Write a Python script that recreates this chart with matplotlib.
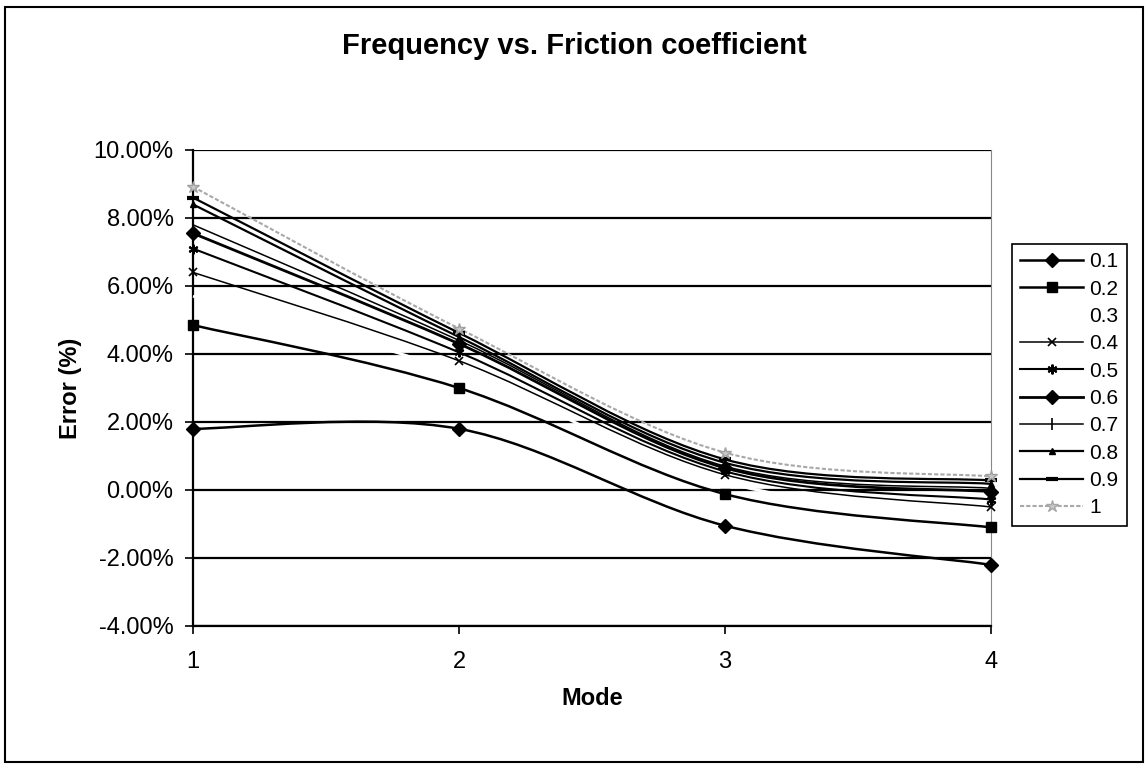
import matplotlib
matplotlib.use("Agg")
import matplotlib.pyplot as plt
from matplotlib.path import Path
from matplotlib.patches import PathPatch, Rectangle
from matplotlib.lines import Line2D
from matplotlib.ticker import FuncFormatter, FixedLocator
import numpy as np

plt.rcParams['font.family'] = ['Liberation Sans', 'DejaVu Sans']

modes = [1, 2, 3, 4]
labels = ["0.1", "0.2", "0.3", "0.4", "0.5", "0.6", "0.7", "0.8", "0.9", "1"]
err_01 = [1.80, 1.80, -1.05, -2.20]
err_02 = [4.85, 3.00, -0.12, -1.10]
err_03 = [5.70, 3.45, 0.22, -0.75]
err_04 = [6.40, 3.80, 0.45, -0.50]
err_05 = [7.10, 4.05, 0.55, -0.28]
err_06 = [7.55, 4.30, 0.65, -0.05]
err_07 = [7.80, 4.40, 0.70, 0.05]
err_08 = [8.40, 4.50, 0.80, 0.18]
err_09 = [8.60, 4.62, 0.90, 0.28]
err_10 = [8.92, 4.75, 1.10, 0.40]
series = [err_01, err_02, err_03, err_04, err_05, err_06, err_07, err_08, err_09, err_10]

yticks = [-4, -2, 0, 2, 4, 6, 8, 10]

styles = [
    dict(color='black', lw=1.8, marker='D', ms=7, mew=1, mfc='black', ls='-'),
    dict(color='black', lw=1.8, marker='s', ms=7, mew=1, mfc='black', ls='-'),
    dict(color='white', lw=2.0, marker=None, ms=0, mew=0, mfc='white', ls='-'),
    dict(color='black', lw=1.1, marker='x', ms=6, mew=1.2, mfc='black', ls='-'),
    dict(color='black', lw=1.5, marker=(6, 2, 0), ms=7, mew=1.5, mfc='black', ls='-'),
    dict(color='black', lw=2.0, marker='D', ms=7, mew=1, mfc='black', ls='-'),
    dict(color='black', lw=1.1, marker='|', ms=9, mew=1.2, mfc='black', ls='-'),
    dict(color='black', lw=1.6, marker='^', ms=4, mew=1, mfc='black', ls='-'),
    dict(color='black', lw=1.6, marker='_', ms=9, mew=3, mfc='black', ls='-'),
    dict(color='#a8a8a8', lw=1.5, marker='*', ms=9, mew=1, mfc='#c8c8c8', ls=(0, (2, 1))),
]


def smooth_path(xs, ys):
    pts = np.column_stack([xs, ys]).astype(float)
    n = len(pts)
    verts = [pts[0]]
    codes = [Path.MOVETO]
    for i in range(n - 1):
        p0 = pts[i - 1] if i > 0 else pts[i]
        p1 = pts[i]
        p2 = pts[i + 1]
        p3 = pts[i + 2] if i + 2 < n else pts[i + 1]
        c1 = p1 + (p2 - p0) / 6.0
        c2 = p2 - (p3 - p1) / 6.0
        verts += [c1, c2, p2]
        codes += [Path.CURVE4] * 3
    return Path(verts, codes)


fig = plt.figure(figsize=(11.48, 7.67), dpi=100)
fig.patch.set_facecolor('white')
fig.patches.append(Rectangle((5 / 1148, 5 / 767), 1 - 10 / 1148, 1 - 12 / 767,
                             transform=fig.transFigure, fill=False,
                             edgecolor='black', lw=1.5))

ax = fig.add_axes([193 / 1148, 1 - 626 / 767, (991 - 193) / 1148, (626 - 150) / 767])
ax.set_xlim(1, 4)
ax.set_ylim(-4, 10)
ax.yaxis.set_major_locator(FixedLocator(yticks))
ax.xaxis.set_major_locator(FixedLocator(modes))
ax.yaxis.set_major_formatter(FuncFormatter(lambda v, p: f"{v:.2f}%"))
ax.grid(axis='y', color='black', lw=1.6, zorder=0)
ax.set_axisbelow(True)
ax.spines['top'].set_visible(False)
ax.spines['right'].set_color('#888888')
ax.spines['right'].set_linewidth(0.8)
ax.spines['right'].set_linestyle((0, (1, 1)))
ax.spines['left'].set_linewidth(1.6)
ax.spines['bottom'].set_linewidth(1.6)
ax.tick_params(axis='both', direction='out', length=6, width=1.2, labelsize=17, pad=8)
ax.tick_params(axis='x', pad=12)

handles = []
for vals, st, lab in zip(series, styles, labels):
    patch = PathPatch(smooth_path(modes, vals), fill=False, edgecolor=st['color'],
                      lw=st['lw'], linestyle=st['ls'], zorder=3, clip_on=False)
    ax.add_patch(patch)
    if st['marker'] is not None:
        ax.plot(modes, vals, linestyle='none', marker=st['marker'], ms=st['ms'],
                mew=st['mew'], mfc=st['mfc'], mec=st['color'] if st['color'] != '#a8a8a8' else '#a0a0a0',
                zorder=4, clip_on=False)
    handles.append(Line2D([0], [0], color=st['color'], lw=st['lw'], linestyle=st['ls'],
                          marker=st['marker'] if st['marker'] else None, ms=st['ms'],
                          mew=st['mew'], mfc=st['mfc'], mec=st['color']))

ax.set_xlabel("Mode", fontsize=17, fontweight='bold', labelpad=10)
ax.set_ylabel("Error (%)", fontsize=17, fontweight='bold', labelpad=8)

fig.text(0.5, 1 - 46 / 767, "Frequency vs. Friction coefficient", ha='center', va='center',
         fontsize=21, fontweight='bold')

leg = fig.legend(handles, labels, loc='upper left',
                 bbox_to_anchor=(1012 / 1148, 1 - 244 / 767),
                 frameon=True, fancybox=False, edgecolor='black', framealpha=1,
                 fontsize=15, handlelength=3.0, handletextpad=0.3, labelspacing=0.4,
                 borderpad=0.4, borderaxespad=0)
leg.get_frame().set_linewidth(1.2)

fig.savefig("out.png", dpi=100, facecolor='white')
